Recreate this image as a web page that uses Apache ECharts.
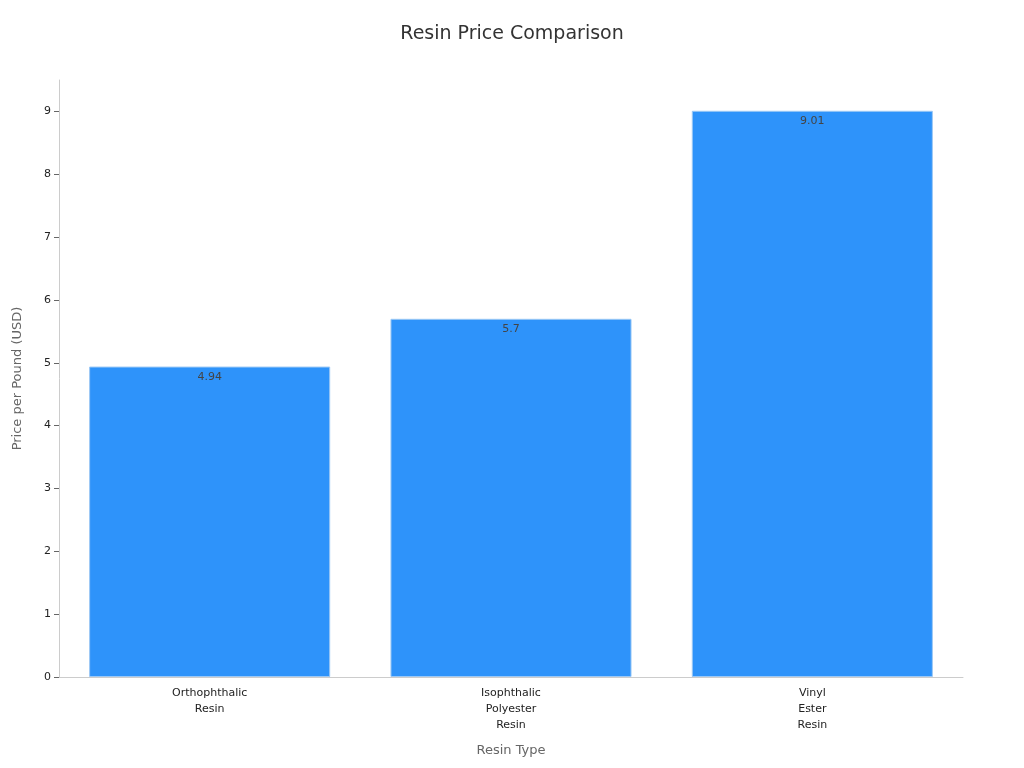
<!DOCTYPE html>
<html>
<head>
<meta charset="utf-8">
<script src="https://cdn.jsdelivr.net/npm/echarts@6/dist/echarts.min.js"></script>
</head>
<body style="margin:0">
<div id="main" style="width:1024px;height:768px;"></div>
<script>
var categories = ['Orthophthalic\nResin', 'Isophthalic\nPolyester\nResin', 'Vinyl\nEster\nResin'];
var prices = [4.94, 5.7, 9.01];

var chart = echarts.init(document.getElementById('main'));
chart.setOption({
    textStyle: { fontFamily: 'DejaVu Sans' },
    title: {
        text: 'Resin Price Comparison', left: 'center', top: 20,
        textStyle: { fontSize: 19, fontWeight: 'normal', color: '#333' }
    },
    grid: { left: 59, right: 61, top: 80, bottom: 91 },
    xAxis: {
        type: 'category', data: categories,
        name: 'Resin Type', nameLocation: 'middle', nameGap: 67,
        nameTextStyle: { fontSize: 13, color: '#666' },
        axisLine: { lineStyle: { color: '#ccc' } },
        axisTick: { alignWithLabel: true, lineStyle: { color: '#666' } },
        axisLabel: { color: '#222', fontSize: 11, lineHeight: 16 }
    },
    yAxis: {
        type: 'value', min: 0, max: 9.5, interval: 1,
        name: 'Price per Pound (USD)', nameLocation: 'middle', nameGap: 35,
        nameTextStyle: { fontSize: 13, color: '#666' },
        axisLine: { show: true, lineStyle: { color: '#ccc' } },
        axisTick: { show: true, lineStyle: { color: '#666' } },
        axisLabel: { color: '#222', fontSize: 11, showMaxLabel: false },
        splitLine: { show: false }
    },
    series: [{
        type: 'bar', data: prices, barWidth: '80%',
        itemStyle: { color: '#2E93FA', borderColor: '#9cc8f5', borderWidth: 1 },
        label: { show: true, position: 'insideTop', color: '#444', fontSize: 11, offset: [0, 0] }
    }]
});
</script>
</body>
</html>
